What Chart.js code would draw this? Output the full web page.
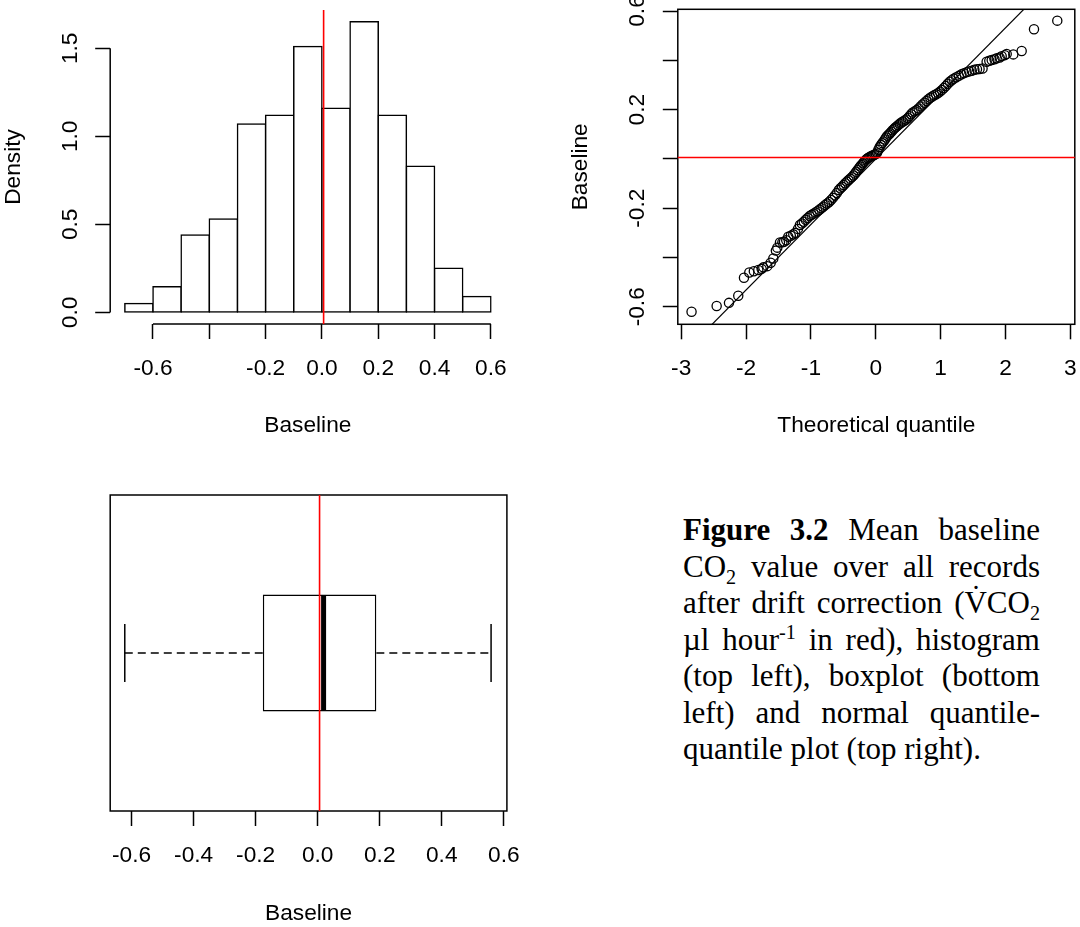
<!DOCTYPE html>
<html>
<head>
<meta charset="utf-8">
<script src="https://cdn.jsdelivr.net/npm/chart.js@4.4.1/dist/chart.umd.min.js"></script>
<style>
  html, body { margin: 0; padding: 0; background: #fff; }
  body { width: 1080px; height: 927px; position: relative; overflow: hidden; }
  canvas { position: absolute; }
  #hist { left: 0; top: 0; }
  #qq { left: 540px; top: 0; }
  #box { left: 0; top: 460px; }
  #caption {
    position: absolute; left: 683px; top: 512px; width: 357px;
    font-family: 'Liberation Serif', 'Times New Roman', serif;
    font-size: 31px; line-height: 36.5px; color: #000;
  }
  #caption div { text-align: justify; text-align-last: justify; }
  #caption div.last { text-align-last: left; }
  #caption sub, #caption sup { font-size: 0.65em; line-height: 0; }
</style>
</head>
<body>
<canvas id="hist" width="540" height="460"></canvas>
<canvas id="qq" width="540" height="460"></canvas>
<canvas id="box" width="540" height="467"></canvas>
<div id="caption">
  <div><b>Figure 3.2</b> Mean baseline</div>
  <div>CO<sub>2</sub> value over all records</div>
  <div>after drift correction (V&#775;CO<sub>2</sub></div>
  <div>µl hour<sup>-1</sup> in red), histogram</div>
  <div>(top left), boxplot (bottom</div>
  <div>left) and normal quantile-</div>
  <div class="last">quantile plot (top right).</div>
</div>
<script>
// ---- data ----

// histogram, bins of 0.1 from -0.7 to 0.6
const binCenters = [-0.65, -0.55, -0.45, -0.35, -0.25, -0.15, -0.05, 0.05, 0.15, 0.25, 0.35, 0.45, 0.55];
const density = [0.05, 0.145, 0.44, 0.53, 1.07, 1.12, 1.51, 1.16, 1.65, 1.12, 0.83, 0.25, 0.09];
const histXTicks = [-0.6, -0.4, -0.2, 0, 0.2, 0.4, 0.6];
const histXLabels = ['-0.6', '', '-0.2', '0.0', '0.2', '0.4', '0.6'];
const histYTicks = [0, 0.5, 1, 1.5];
const histYLabels = ['0.0', '0.5', '1.0', '1.5'];

// mean baseline (red lines)
const meanBaseline = 0.006;

// normal Q-Q plot
const qqTheoretical = [
  -2.84, -2.453, -2.263, -2.120, -2.032, -1.950, -1.880, -1.811, -1.760, -1.734, -1.672,
  -1.620, -1.580, -1.540, -1.518, -1.477, -1.440, -1.415, -1.380, -1.349, -1.310, -1.272,
  -1.24, -1.20, -1.17, -1.14, -1.11, -1.08, -1.05, -1.02, -0.99, -0.96, -0.93, -0.90,
  -0.87, -0.84, -0.81, -0.78, -0.75, -0.72, -0.69, -0.66, -0.63, -0.60, -0.57,
  -0.545, -0.52, -0.495, -0.47, -0.445, -0.42, -0.395, -0.37, -0.345, -0.32,
  -0.30, -0.28, -0.26, -0.24, -0.22, -0.20, -0.18, -0.16, -0.14, -0.12, -0.10,
  -0.08, -0.06, -0.04, -0.02, 0.00, 0.02, 0.04, 0.06, 0.08, 0.10,
  0.12, 0.14, 0.16, 0.18, 0.20, 0.22, 0.24, 0.26, 0.28, 0.30,
  0.32, 0.345, 0.37, 0.395, 0.42, 0.445, 0.47, 0.495, 0.52, 0.545, 0.57,
  0.60, 0.63, 0.66, 0.69, 0.72, 0.75, 0.78, 0.81, 0.84, 0.87, 0.90,
  0.93, 0.96, 0.99, 1.02, 1.05, 1.08, 1.11, 1.14, 1.17, 1.20,
  1.24, 1.28, 1.32, 1.36, 1.40, 1.44, 1.48, 1.52, 1.56, 1.60,
  1.646, 1.709, 1.750, 1.787, 1.830, 1.864, 1.910, 1.941, 1.990, 2.018, 2.120, 2.249, 2.439, 2.798
];
const qqSample = [
  -0.620, -0.597, -0.584, -0.555, -0.482, -0.461, -0.456, -0.451, -0.446, -0.440, -0.435,
  -0.421, -0.404, -0.372, -0.360, -0.339, -0.338, -0.336, -0.330, -0.316, -0.312, -0.306,
  -0.300, -0.284, -0.268, -0.262, -0.255, -0.247, -0.240, -0.232, -0.227, -0.222, -0.217, -0.212,
  -0.206, -0.200, -0.194, -0.187, -0.181, -0.175, -0.167, -0.158, -0.148, -0.138, -0.126,
  -0.119, -0.113, -0.106, -0.099, -0.092, -0.086, -0.080, -0.074, -0.067, -0.059,
  -0.052, -0.045, -0.038, -0.031, -0.025, -0.018, -0.012, -0.006, 0.000, 0.004, 0.007,
  0.010, 0.013, 0.015, 0.017, 0.020, 0.026, 0.037, 0.048, 0.057, 0.064,
  0.071, 0.079, 0.087, 0.094, 0.099, 0.104, 0.110, 0.116, 0.122, 0.127,
  0.131, 0.137, 0.143, 0.148, 0.152, 0.156, 0.160, 0.166, 0.173, 0.181, 0.188,
  0.193, 0.198, 0.205, 0.213, 0.221, 0.228, 0.235, 0.242, 0.248, 0.253, 0.258,
  0.262, 0.267, 0.273, 0.280, 0.288, 0.296, 0.305, 0.313, 0.319, 0.325,
  0.331, 0.337, 0.343, 0.348, 0.352, 0.355, 0.358, 0.362, 0.364, 0.365,
  0.367, 0.394, 0.398, 0.401, 0.404, 0.408, 0.411, 0.417, 0.421, 0.426, 0.424, 0.438, 0.526, 0.561
];
// reference line through the quartiles (two far ends, clipped to the plot)
const qqLineX = [-3.2, 3.2];
const qqLineY = [-0.851, 0.851];
const qqXTicks = [-3, -2, -1, 0, 1, 2, 3];
const qqXLabels = ['-3', '-2', '-1', '0', '1', '2', '3'];
const qqYTicks = [-0.6, -0.4, -0.2, 0, 0.2, 0.4, 0.6];
const qqYLabels = ['-0.6', '', '-0.2', '', '0.2', '', '0.6'];

// boxplot: min, q1, median, q3, max
const boxStats = [-0.622, -0.177, 0.019, 0.189, 0.559];
const boxXTicks = [-0.6, -0.4, -0.2, 0, 0.2, 0.4, 0.6];
const boxXLabels = ['-0.6', '-0.4', '-0.2', '0.0', '0.2', '0.4', '0.6'];

// ---- drawing ----
Chart.defaults.font.family = "'Liberation Sans', Arial, sans-serif";
Chart.defaults.font.size = 22.7;
Chart.defaults.color = '#000';

const LW = 1.5;

// R-like decorations: box frame, axis lines from first to last tick, red mean lines
const rFrame = {
  id: 'rFrame',
  afterDatasetsDraw(chart, args, opts) {
    const { ctx, chartArea: a, scales } = chart;
    ctx.save();
    ctx.strokeStyle = '#000';
    ctx.lineWidth = LW;
    if (opts.box) {
      ctx.strokeRect(a.left, a.top, a.right - a.left, a.bottom - a.top);
    }
    if (opts.axisLines) {
      const xt = scales.x.ticks, yt = scales.y.ticks;
      ctx.beginPath();
      ctx.moveTo(scales.x.getPixelForValue(xt[0].value), a.bottom);
      ctx.lineTo(scales.x.getPixelForValue(xt[xt.length - 1].value), a.bottom);
      ctx.moveTo(a.left, scales.y.getPixelForValue(yt[0].value));
      ctx.lineTo(a.left, scales.y.getPixelForValue(yt[yt.length - 1].value));
      ctx.stroke();
    }
    ctx.strokeStyle = '#ff0000';
    ctx.lineWidth = 1.6;
    if (opts.vline != null) {
      const px = scales.x.getPixelForValue(opts.vline);
      ctx.beginPath();
      ctx.moveTo(px, a.top);
      ctx.lineTo(px, a.bottom);
      ctx.stroke();
    }
    if (opts.hline != null) {
      const py = scales.y.getPixelForValue(opts.hline);
      ctx.beginPath();
      ctx.moveTo(a.left, py);
      ctx.lineTo(a.right, py);
      ctx.stroke();
    }
    ctx.restore();
  }
};
Chart.register(rFrame);

const tickGrid = { drawOnChartArea: false, drawTicks: true, tickLength: 15, tickWidth: LW, tickColor: '#000', offset: false };

function xAxis(min, max, values, labels, height, titleText, titlePad) {
  return {
    type: 'linear', position: 'bottom', min, max, offset: false,
    afterBuildTicks: s => { s.ticks = values.map(v => ({ value: v })); },
    afterFit: s => { s.height = height; s.paddingLeft = 0; s.paddingRight = 0; },
    ticks: { autoSkip: false, maxRotation: 0, minRotation: 0, padding: 15.9, callback: (v, i) => labels[i] },
    grid: tickGrid,
    border: { display: false },
    title: { display: true, text: titleText, padding: { top: 0, bottom: titlePad } }
  };
}

function yAxis(min, max, values, labels, width, titleText, titlePad, tickPad) {
  return {
    type: 'linear', position: 'left', min, max, offset: false,
    afterBuildTicks: s => { s.ticks = values.map(v => ({ value: v })); },
    afterFit: s => { s.width = width; s.paddingTop = 0; s.paddingBottom = 0; },
    ticks: { autoSkip: false, minRotation: 90, maxRotation: 90, crossAlign: 'center', padding: tickPad, callback: (v, i) => labels[i] },
    grid: tickGrid,
    border: { display: false },
    title: { display: true, text: titleText, padding: { top: titlePad, bottom: 0 } }
  };
}

const common = {
  responsive: false,
  animation: false,
  devicePixelRatio: 1,
  events: []
};

// histogram
new Chart(document.getElementById('hist'), {
  type: 'bar',
  data: {
    datasets: [{
      data: binCenters.map((c, i) => ({ x: c, y: density[i] })),
      backgroundColor: '#ffffff',
      borderColor: '#000000',
      borderWidth: LW,
      borderSkipped: false,
      inflateAmount: LW / 2,
      barPercentage: 1,
      categoryPercentage: 1
    }]
  },
  options: {
    ...common,
    layout: { autoPadding: false, padding: { left: 0, right: 34.5, top: 9.9, bottom: 0 } },
    plugins: { legend: { display: false }, tooltip: { enabled: false }, rFrame: { axisLines: true, vline: meanBaseline } },
    scales: {
      x: xAxis(-0.752, 0.652, histXTicks, histXLabels, 136, 'Baseline', 20.4),
      y: yAxis(-0.066, 1.718, histYTicks, histYLabels, 110.2, 'Density', 0, 8.9)
    }
  }
});

// normal Q-Q plot
new Chart(document.getElementById('qq'), {
  type: 'scatter',
  data: {
    datasets: [
      {
        data: qqTheoretical.map((x, i) => ({ x, y: qqSample[i] })),
        pointRadius: 4.6,
        pointBorderWidth: 1.3,
        pointBorderColor: '#000000',
        pointBackgroundColor: 'rgba(0,0,0,0)'
      },
      {
        type: 'line',
        data: qqLineX.map((x, i) => ({ x, y: qqLineY[i] })),
        borderColor: '#000000',
        borderWidth: 1.2,
        pointRadius: 0
      }
    ]
  },
  options: {
    ...common,
    layout: { autoPadding: false, padding: { left: 0, right: 5.2, top: 9.3, bottom: 0 } },
    plugins: { legend: { display: false }, tooltip: { enabled: false }, rFrame: { box: true, hline: meanBaseline } },
    scales: {
      x: xAxis(-3.052, 3.068, qqXTicks, qqXLabels, 135.7, 'Theoretical quantile', 20.4),
      y: yAxis(-0.671, 0.607, qqYTicks, qqYLabels, 137.8, 'Baseline', 26.9, 5.1)
    }
  }
});

// horizontal boxplot (dataset 0 is drawn last, i.e. on top)
const [wMin, q1, med, q3, wMax] = boxStats;
new Chart(document.getElementById('box'), {
  type: 'bar',
  data: {
    datasets: [
      {
        type: 'line', showLine: false,
        data: [{ x: med, y: 1 }],
        pointStyle: 'line', pointRotation: 90, pointRadius: 57.5,
        pointBorderWidth: 5, pointBorderColor: '#000000'
      },
      {
        data: [{ x: [q1, q3], y: 1 }],
        backgroundColor: '#ffffff', borderColor: '#000000', borderWidth: LW,
        borderSkipped: false, inflateAmount: 0, barThickness: 117
      },
      {
        type: 'line',
        data: [{ x: wMin, y: 1 }, { x: q1, y: 1 }],
        borderColor: '#000000', borderWidth: LW, borderDash: [8, 5], pointRadius: 0
      },
      {
        type: 'line',
        data: [{ x: q3, y: 1 }, { x: wMax, y: 1 }],
        borderColor: '#000000', borderWidth: LW, borderDash: [8, 5], pointRadius: 0
      },
      {
        type: 'line', showLine: false,
        data: [{ x: wMin, y: 1 }, { x: wMax, y: 1 }],
        pointStyle: 'line', pointRotation: 90, pointRadius: 29,
        pointBorderWidth: LW, pointBorderColor: '#000000'
      }
    ]
  },
  options: {
    ...common,
    indexAxis: 'y',
    layout: { autoPadding: false, padding: { left: 110.2, right: 33.1, top: 35, bottom: 0 } },
    plugins: { legend: { display: false }, tooltip: { enabled: false }, rFrame: { box: true, vline: meanBaseline } },
    scales: {
      x: xAxis(-0.669, 0.610, boxXTicks, boxXLabels, 116, 'Baseline', 0),
      y: { type: 'linear', min: 0.46, max: 1.54, offset: false, display: false }
    }
  }
});
</script>
</body>
</html>
